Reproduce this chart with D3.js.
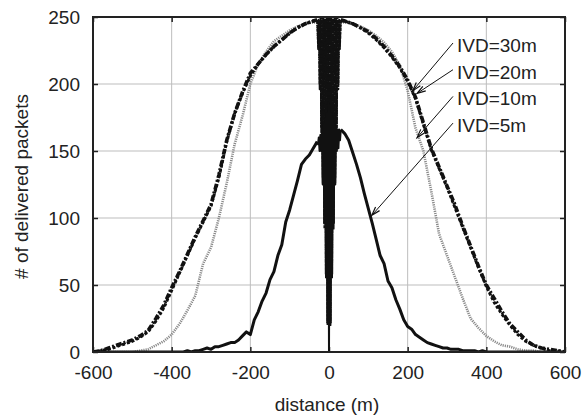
<!DOCTYPE html>
<html>
<head>
<meta charset="utf-8">
<script src="https://cdn.jsdelivr.net/npm/d3@7/dist/d3.min.js"></script>
<style>
  body { margin: 0; background: #fff; }
  text { font-family: "Liberation Sans", Arial, sans-serif; fill: #222; }
</style>
</head>
<body>
<div id="chart"></div>
<script>
// ---------------- data ----------------
const xTicks = [-600, -400, -200, 0, 200, 400, 600];
const yTicks = [0, 50, 100, 150, 200, 250];

// distance grids (m)
const dist20 = d3.range(-600, -39, 20).concat(d3.range(40, 601, 20));
const dist10 = d3.range(-600, -39, 10).concat(d3.range(40, 601, 10));
const distCenter = d3.range(-30, 31, 2);

// IVD=30m on dist20
const ivd30 = [0, 1, 3, 5, 7, 9, 12, 16, 25, 35, 48, 60, 73, 86, 98, 110, 132, 158, 178, 194, 208, 215, 222, 228, 233, 238, 242, 245, 247,
  247, 245, 242, 239, 234, 228, 221, 213, 203, 190, 171, 152, 138, 124, 110, 94, 79, 64, 50, 40, 30, 21, 15, 9, 5, 3, 2, 1, 0];
// IVD=20m on dist20
const ivd20 = [0, 1, 2, 4, 6, 8, 11, 15, 23, 33, 46, 59, 72, 85, 97, 109, 130, 157, 178, 193, 206, 215, 222, 228, 233, 238, 242, 245, 247,
  247, 245, 242, 238, 233, 227, 220, 212, 202, 189, 170, 151, 137, 123, 108, 93, 78, 63, 49, 37, 28, 20, 13, 8, 5, 3, 1, 1, 0];
// IVD=10m on dist20
const ivd10 = [0, 0, 0, 0, 0, 0, 1, 2, 5, 8, 13, 21, 31, 42, 66, 78, 100, 126, 155, 176, 200, 215, 224, 232, 236, 240, 243, 245, 246,
  246, 245, 243, 240, 236, 231, 224, 214, 195, 167, 150, 120, 88, 72, 56, 40, 25, 18, 12, 8, 5, 4, 2, 1, 1, 0, 0, 0, 0];
// IVD=5m on dist10
const ivd5 = [0, 0, 0, 0, 0, 0, 0, 0, 0, 0, 0, 0, 0, 0, 0, 0, 0, 0, 0, 0, 0, 0, 0, 0, 1, 0,
  1, 1, 2, 3, 2, 4, 4, 5, 6, 7, 7, 9, 12, 15, 13, 24, 30, 38, 44, 54, 60, 72, 80, 97, 106, 117, 128, 140, 144, 147, 152,
  163, 158, 149, 140, 130, 118, 107, 96, 84, 72, 66, 53, 48, 39, 32, 24, 19, 17, 13, 11, 9, 7, 6, 5, 4, 3, 3, 2, 2, 2, 1, 1, 1, 1, 0, 1, 0,
  0, 0, 0, 0, 0, 0, 0, 0, 0, 0, 0, 0, 0, 0, 0, 0, 0, 0, 0, 0];

// values right around the sender (distCenter, -30..30 m)
const ivd30Center = [248, 230, 248, 200, 249, 168, 249, 130, 249, 96, 249, 58, 249, 22, 249, 0, 249, 22, 249, 58, 249, 96, 249, 130, 249, 168, 249, 200, 248, 230, 248];
const ivd20Center = [247, 226, 247, 196, 248, 164, 248, 126, 248, 92, 248, 55, 248, 20, 248, 0, 248, 20, 248, 55, 248, 92, 248, 126, 248, 164, 248, 196, 247, 226, 247];
const ivd10Center = [246, 232, 247, 204, 247, 172, 248, 134, 248, 100, 248, 62, 248, 25, 248, 0, 248, 25, 248, 62, 248, 100, 248, 134, 248, 172, 247, 204, 247, 232, 246];
const ivd5Center = [157, 155, 160, 150, 162, 150, 166, 125, 170, 96, 174, 58, 178, 22, 186, 0, 184, 22, 178, 58, 174, 96, 170, 125, 168, 150, 166, 152, 166, 158, 166];

const labels = ['IVD=30m', 'IVD=20m', 'IVD=10m', 'IVD=5m'];
// arrow targets on the curves [distance, packets]
const arrowTargets = [[213, 195], [224, 193], [224, 160], [109, 102]];

// ---------------- layout ----------------
const width = 587;
const height = 419;
const padLeft = 93, padRight = 565, padTop = 17, padBottom = 352;

const xScale = d3.scaleLinear().domain([-600, 600]).range([padLeft, padRight]);
const yScale = d3.scaleLinear().domain([0, 250]).range([padBottom, padTop]);

const svg = d3.select('#chart').append('svg')
  .attr('width', width)
  .attr('height', height);

svg.append('defs').append('clipPath').attr('id', 'plot')
  .append('rect')
  .attr('x', padLeft).attr('y', padTop - 2)
  .attr('width', padRight - padLeft).attr('height', padBottom - padTop + 2);

// grid
const grid = svg.append('g').attr('stroke', '#bdbdbd').attr('stroke-width', 1);
grid.selectAll('.gx').data(xTicks.slice(1, -1)).enter().append('line')
  .attr('x1', d => xScale(d)).attr('x2', d => xScale(d))
  .attr('y1', padTop).attr('y2', padBottom);
grid.selectAll('.gy').data(yTicks.slice(1, -1)).enter().append('line')
  .attr('x1', padLeft).attr('x2', padRight)
  .attr('y1', d => yScale(d)).attr('y2', d => yScale(d));

// axes (labels + inward ticks)
const fontSize = 19;
const plain = d => String(d);
const xAxis = svg.append('g')
  .attr('transform', `translate(0,${padBottom})`)
  .call(d3.axisBottom(xScale).tickValues(xTicks).tickFormat(plain).tickSize(-5).tickPadding(14));
const yAxis = svg.append('g')
  .attr('transform', `translate(${padLeft},0)`)
  .call(d3.axisLeft(yScale).tickValues(yTicks).tickFormat(plain).tickSize(-5).tickPadding(13));
const xTop = svg.append('g')
  .attr('transform', `translate(0,${padTop})`)
  .call(d3.axisTop(xScale).tickValues(xTicks).tickSize(-5).tickFormat(''));
const yRight = svg.append('g')
  .attr('transform', `translate(${padRight},0)`)
  .call(d3.axisRight(yScale).tickValues(yTicks).tickSize(-5).tickFormat(''));
[xAxis, yAxis, xTop, yRight].forEach(g => {
  g.select('.domain').remove();
  g.selectAll('line').attr('stroke', '#222').attr('stroke-width', 1.5);
  g.selectAll('text').attr('font-size', fontSize).attr('fill', '#222')
    .attr('font-family', '"Liberation Sans", Arial, sans-serif');
});

// ---------------- curves ----------------
const line = d3.line().x(d => xScale(d[0])).y(d => yScale(d[1]));

const curves = [
  { dist: dist20, vals: ivd10, center: ivd10Center, stroke: '#8a8a8a', width: 2.6, dash: '1.2,1', cWidth: 1.4, cDash: '1.2,1' },
  { dist: dist20, vals: ivd20, center: ivd20Center, stroke: '#111', width: 3, dash: '3,2', cWidth: 1.7, cDash: '3,1' },
  { dist: dist20, vals: ivd30, center: ivd30Center, stroke: '#111', width: 3.6, dash: '6,2,2,2', cWidth: 1.8, cDash: '4,1,1.5,1' },
  { dist: dist10, vals: ivd5, center: ivd5Center, stroke: '#111', width: 3, dash: null, cWidth: 2, cDash: null }
];
curves.forEach(c => {
  const pts = c.dist.map((d, i) => [d, c.vals[i]]);
  const mid = distCenter.map((d, i) => [d, c.center[i]]);
  c.left = pts.filter(p => p[0] < 0).concat([mid[0]]);
  c.right = [mid[mid.length - 1]].concat(pts.filter(p => p[0] > 0));
  c.mid = mid;
});

const plot = svg.append('g').attr('clip-path', 'url(#plot)');
curves.forEach(c => {
  const g = plot.append('g').attr('fill', 'none').attr('stroke', c.stroke)
    .attr('stroke-linejoin', 'round');
  g.selectAll('.side').data([c.left, c.right]).enter().append('path')
    .attr('d', line)
    .attr('stroke-width', c.width)
    .attr('stroke-dasharray', c.dash);
  g.append('path')
    .attr('d', line(c.mid))
    .attr('stroke-width', c.cWidth)
    .attr('stroke-dasharray', c.cDash);
});

// frame
svg.append('rect')
  .attr('x', padLeft).attr('y', padTop)
  .attr('width', padRight - padLeft).attr('height', padBottom - padTop)
  .attr('fill', 'none').attr('stroke', '#222').attr('stroke-width', 2);

// ---------------- legend with arrows ----------------
const legendX = 457;
const legendY0 = 52;
const legendStep = 26.7;
const legend = svg.append('g');
labels.forEach((lab, i) => {
  const ty = legendY0 + i * legendStep;
  legend.append('text')
    .attr('x', legendX).attr('y', ty)
    .attr('font-size', fontSize)
    .text(lab);
  const sx = legendX - 4, sy = ty - 9;
  const tx = xScale(arrowTargets[i][0]), tyy = yScale(arrowTargets[i][1]);
  legend.append('line')
    .attr('x1', sx).attr('y1', sy).attr('x2', tx).attr('y2', tyy)
    .attr('stroke', '#111').attr('stroke-width', 1);
  const ang = Math.atan2(sy - tyy, sx - tx);
  const len = 9, spread = 0.3;
  legend.append('path')
    .attr('d', `M${tx + len * Math.cos(ang + spread)},${tyy + len * Math.sin(ang + spread)}L${tx},${tyy}L${tx + len * Math.cos(ang - spread)},${tyy + len * Math.sin(ang - spread)}`)
    .attr('fill', 'none').attr('stroke', '#111').attr('stroke-width', 1.2);
});

// axis titles
svg.append('text')
  .attr('x', (padLeft + padRight) / 2 - 2).attr('y', 411)
  .attr('text-anchor', 'middle')
  .attr('font-size', fontSize)
  .text('distance (m)');
svg.append('text')
  .attr('transform', `translate(28,${(padTop + padBottom) / 2 + 2}) rotate(-90)`)
  .attr('text-anchor', 'middle')
  .attr('font-size', fontSize)
  .text('# of delivered packets');
</script>
</body>
</html>
